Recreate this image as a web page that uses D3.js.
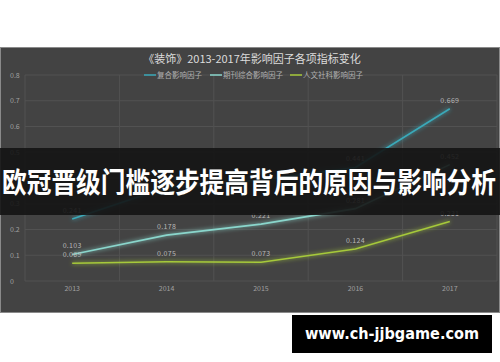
<!DOCTYPE html>
<html>
<head>
<meta charset="utf-8">
<script src="https://cdn.jsdelivr.net/npm/d3@7"></script>
<style>
    body { margin: 0; background: #fff; }
    svg { display: block; font-family: "Noto Sans CJK SC", "Noto Sans", sans-serif; }
</style>
</head>
<body>
<script>
var years = ["2013", "2014", "2015", "2016", "2017"];
var seriesNames = ["复合影响因子", "期刊综合影响因子", "人文社科影响因子"];
var seriesColors = ["#3aa9b9", "#8ad6cc", "#a6c93a"];
var fuhe = [0.241, 0.363, 0.392, 0.441, 0.669];
var qikan = [0.103, 0.178, 0.221, 0.281, 0.452];
var renwen = [0.069, 0.075, 0.073, 0.124, 0.231];
var yTicks = [0, 0.1, 0.2, 0.3, 0.4, 0.5, 0.6, 0.7, 0.8];

var allSeries = [fuhe, qikan, renwen];

var width = 500, height = 362;
var svg = d3.select("body").append("svg")
    .attr("width", width)
    .attr("height", height);

// glow filter for the lines
var defs = svg.append("defs");
var glow = defs.append("filter").attr("id", "glow")
    .attr("x", "-20%").attr("y", "-50%").attr("width", "140%").attr("height", "200%");
glow.append("feGaussianBlur").attr("stdDeviation", 2).attr("result", "b");
var merge = glow.append("feMerge");
merge.append("feMergeNode").attr("in", "b");
merge.append("feMergeNode").attr("in", "SourceGraphic");

// chart panel
svg.append("rect")
    .attr("x", 0.5).attr("y", 47.5)
    .attr("width", 499).attr("height", 265)
    .attr("fill", "#434343")
    .attr("stroke", "#8a8a8a");

var x = d3.scaleBand().domain(years).range([25, 497]);
var y = d3.scaleLinear().domain([0, 0.8]).range([281, 75]);

// grid
svg.append("g").selectAll("line")
    .data(yTicks)
    .enter().append("line")
    .attr("x1", 25).attr("x2", 497)
    .attr("y1", function (d) { return y(d); })
    .attr("y2", function (d) { return y(d); })
    .attr("stroke", "#525252");
svg.append("g").selectAll("line")
    .data(years.concat(["end"]))
    .enter().append("line")
    .attr("x1", function (d, i) { return i < years.length ? x(d) : x.range()[1]; })
    .attr("x2", function (d, i) { return i < years.length ? x(d) : x.range()[1]; })
    .attr("y1", y(0.8)).attr("y2", y(0))
    .attr("stroke", "#525252");

// axis labels
svg.append("g").selectAll("text")
    .data(yTicks)
    .enter().append("text")
    .attr("x", 10)
    .attr("y", function (d) { return y(d) + 2.5; })
    .attr("font-size", 7)
    .attr("fill", "#a0a0a0")
    .text(function (d) { return d === 0 ? "0" : d3.format(".1f")(d); });

svg.append("g").selectAll("text")
    .data(years)
    .enter().append("text")
    .attr("x", function (d) { return x(d) + x.bandwidth() / 2; })
    .attr("y", 291)
    .attr("text-anchor", "middle")
    .attr("font-size", 7)
    .attr("fill", "#a0a0a0")
    .text(function (d) { return d; });

// title
svg.append("text")
    .attr("x", 252).attr("y", 63)
    .attr("text-anchor", "middle")
    .attr("font-size", 11)
    .attr("fill", "#dcdcdc")
    .text("《装饰》2013-2017年影响因子各项指标变化");

// legend
var legendX = [144, 210, 290];
var legend = svg.append("g").selectAll("g")
    .data(seriesNames)
    .enter().append("g")
    .attr("transform", function (d, i) { return "translate(" + legendX[i] + ",75)"; });
legend.append("line")
    .attr("x1", 0).attr("x2", 12)
    .attr("stroke", function (d, i) { return seriesColors[i]; })
    .attr("stroke-width", 1.5);
legend.append("text")
    .attr("x", 13).attr("y", 2.5)
    .attr("font-size", 7.5)
    .attr("fill", "#b0b0b0")
    .text(function (d) { return d; });

// lines
var line = d3.line()
    .x(function (d, i) { return x(years[i]) + x.bandwidth() / 2; })
    .y(function (d) { return y(d); });

svg.append("g").selectAll("path")
    .data(allSeries)
    .enter().append("path")
    .attr("d", line)
    .attr("fill", "none")
    .attr("stroke", function (d, i) { return seriesColors[i]; })
    .attr("stroke-width", 1.6)
    .attr("filter", "url(#glow)");

// data labels
allSeries.forEach(function (s) {
    svg.append("g").selectAll("text")
        .data(s)
        .enter().append("text")
        .attr("x", function (d, i) { return x(years[i]) + x.bandwidth() / 2; })
        .attr("y", function (d) { return y(d) - 6; })
        .attr("text-anchor", "middle")
        .attr("font-size", 7)
        .attr("letter-spacing", 0.3)
        .attr("fill", "#b8b8b8")
        .text(function (d) { return d3.format(".3f")(d); });
});

// banner
svg.append("rect")
    .attr("x", 0).attr("y", 148)
    .attr("width", 500).attr("height", 67)
    .attr("fill", "#141414")
    .attr("fill-opacity", 0.9);
svg.append("text")
    .attr("x", 2).attr("y", 193)
    .attr("font-size", 28)
    .attr("font-weight", "bold")
    .attr("fill", "#ffffff")
    .attr("textLength", 494)
    .attr("lengthAdjust", "spacingAndGlyphs")
    .text("欧冠晋级门槛逐步提高背后的原因与影响分析");

// watermark
svg.append("rect")
    .attr("x", 292).attr("y", 315)
    .attr("width", 200).attr("height", 38)
    .attr("fill", "#000");
svg.append("text")
    .attr("x", 392).attr("y", 339)
    .attr("text-anchor", "middle")
    .attr("font-family", "DejaVu Sans, sans-serif")
    .attr("font-size", 15)
    .attr("font-weight", "bold")
    .attr("fill", "#fff")
    .attr("textLength", 174)
    .attr("lengthAdjust", "spacingAndGlyphs")
    .text("www.ch-jjbgame.com");
</script>
</body>
</html>
